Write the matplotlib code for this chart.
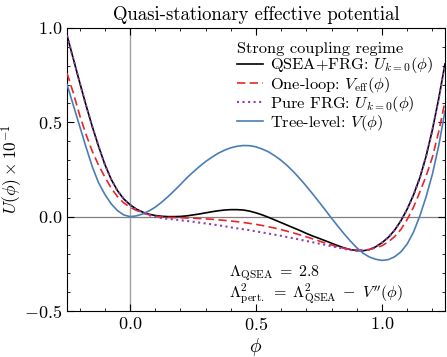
import numpy as np
import matplotlib
matplotlib.use("Agg")
import matplotlib.pyplot as plt
from matplotlib.ticker import MultipleLocator

plt.rcParams['font.family'] = 'serif'
plt.rcParams['font.serif'] = ['cmr10']
plt.rcParams['mathtext.fontset'] = 'cm'
plt.rcParams['axes.formatter.use_mathtext'] = True
plt.rcParams['axes.unicode_minus'] = False

# field values (sample positions)
phi = np.linspace(-0.25, 1.25, 61)

# QSEA+FRG: U_{k=0}
u_qsea = [0.960, 0.836, 0.712, 0.592, 0.478, 0.373, 0.277, 0.198, 0.138, 0.094, 0.063,
          0.040, 0.024, 0.013, 0.006, 0.002, 0.000, 0.000, 0.001, 0.004, 0.009,
          0.014, 0.020, 0.026, 0.031, 0.035, 0.037, 0.037, 0.035, 0.029, 0.020,
          0.009, -0.004, -0.018, -0.032, -0.046, -0.060, -0.074, -0.089, -0.103, -0.115,
          -0.128, -0.141, -0.154, -0.166, -0.175, -0.180, -0.181, -0.175, -0.160, -0.138,
          -0.110, -0.072, -0.022, 0.040, 0.115, 0.205, 0.320, 0.460, 0.625, 0.810]

# one-loop V_eff
v_oneloop = [0.760, 0.655, 0.538, 0.437, 0.347, 0.273, 0.210, 0.152, 0.106, 0.073, 0.050,
             0.033, 0.020, 0.010, 0.003, -0.002, -0.004, -0.005, -0.006, -0.007, -0.008,
             -0.010, -0.012, -0.014, -0.017, -0.020, -0.023, -0.027, -0.031, -0.036, -0.041,
             -0.047, -0.054, -0.061, -0.069, -0.078, -0.087, -0.097, -0.107, -0.118, -0.129,
             -0.140, -0.150, -0.160, -0.168, -0.174, -0.177, -0.177, -0.174, -0.166, -0.154,
             -0.134, -0.106, -0.068, -0.015, 0.050, 0.130, 0.215, 0.315, 0.450, 0.610]

# pure FRG U_{k=0}
u_frg = [0.960, 0.836, 0.712, 0.592, 0.478, 0.373, 0.277, 0.198, 0.138, 0.094, 0.063,
         0.038, 0.021, 0.008, -0.002, -0.008, -0.012, -0.015, -0.019, -0.023, -0.027,
         -0.032, -0.036, -0.041, -0.046, -0.051, -0.057, -0.062, -0.067, -0.072, -0.078,
         -0.084, -0.090, -0.096, -0.102, -0.109, -0.115, -0.122, -0.129, -0.136, -0.143,
         -0.150, -0.157, -0.164, -0.171, -0.177, -0.181, -0.181, -0.175, -0.160, -0.138,
         -0.110, -0.072, -0.022, 0.040, 0.115, 0.205, 0.320, 0.460, 0.625, 0.810]

# tree-level V
v_tree = [0.700, 0.590, 0.480, 0.370, 0.265, 0.180, 0.118, 0.068, 0.032, 0.009, 0.000,
          0.004, 0.014, 0.030, 0.050, 0.076, 0.105, 0.137, 0.170, 0.205, 0.236,
          0.265, 0.292, 0.315, 0.336, 0.352, 0.365, 0.373, 0.377, 0.376, 0.370,
          0.358, 0.343, 0.322, 0.298, 0.269, 0.236, 0.200, 0.161, 0.120, 0.078,
          0.035, -0.009, -0.051, -0.092, -0.130, -0.165, -0.194, -0.214, -0.226, -0.232,
          -0.228, -0.213, -0.187, -0.145, -0.082, 0.003, 0.105, 0.225, 0.375, 0.560]

fig = plt.figure(figsize=(4.47, 3.57), dpi=100)
ax = fig.add_axes([0.150, 0.129, 0.8455, 0.7926])

ax.axhline(0, color="#808080", lw=0.9, zorder=1)
ax.axvline(0, color="#a0a0a0", lw=1.0, zorder=1)

ax.plot(phi, u_qsea, color="black", lw=1.2, label=r"QSEA+FRG: $U_{k=0}(\phi)$", zorder=3)
ax.plot(phi, v_oneloop, color="#e8262a", lw=1.2, dashes=(5, 2.6), label=r"One-loop: $V_{\rm eff}(\phi)$", zorder=3)
ax.plot(phi, u_frg, color="#9040b0", lw=1.5, ls=":", label=r"Pure FRG: $U_{k=0}(\phi)$", zorder=4)
ax.plot(phi, v_tree, color="#4a7db5", lw=1.2, label=r"Tree-level: $V(\phi)$", zorder=3)

ax.set_xlim(-0.25, 1.25)
ax.set_ylim(-0.5, 1.0)
ax.set_xticks([0.0, 0.5, 1.0])
ax.set_yticks([-0.5, 0.0, 0.5, 1.0])
ax.xaxis.set_minor_locator(MultipleLocator(0.1))
ax.yaxis.set_minor_locator(MultipleLocator(0.1))
ax.tick_params(which="both", direction="in", top=True, right=True, labelsize=13)
ax.tick_params(which="major", length=5, width=0.8)
ax.tick_params(which="minor", length=2.5, width=0.6)

ax.set_xlabel(r"$\phi$", fontsize=14, labelpad=2)
ax.set_ylabel(r"$U(\phi)\times 10^{-1}$", fontsize=12.5, labelpad=0)
ax.set_title("Quasi-stationary effective potential", fontsize=13.5, pad=6)

leg = ax.legend(loc="upper right", bbox_to_anchor=(1.0, 0.99), frameon=False,
                fontsize=11.8, title="Strong coupling regime", title_fontsize=11.8,
                handlelength=1.6, handletextpad=0.45, labelspacing=-0.05,
                alignment="left", borderaxespad=0.3)

ax.text(0.429, 0.122, r"$\Lambda_{\rm QSEA}\;=\;2.8$", transform=ax.transAxes,
        fontsize=11.5, va="baseline")
ax.text(0.429, 0.048, r"$\Lambda^2_{\rm pert.}\;=\;\Lambda^2_{\rm QSEA}\;-\;V''(\phi)$",
        transform=ax.transAxes, fontsize=11.5, va="baseline")

fig.savefig("out.png", dpi=100)
